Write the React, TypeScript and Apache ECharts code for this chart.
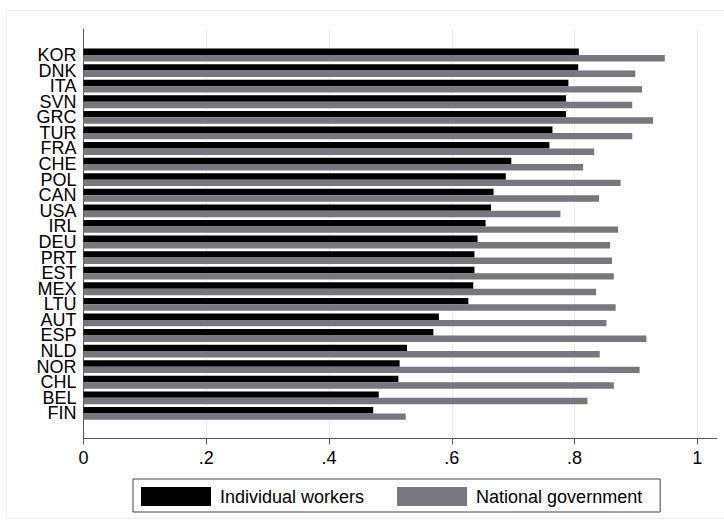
import React, { useEffect, useRef } from "react";
import * as echarts from "echarts";

const countries = [
  "KOR", "DNK", "ITA", "SVN", "GRC", "TUR", "FRA", "CHE", "POL", "CAN", "USA", "IRL",
  "DEU", "PRT", "EST", "MEX", "LTU", "AUT", "ESP", "NLD", "NOR", "CHL", "BEL", "FIN",
];
const individualWorkers = [
  0.807, 0.806, 0.790, 0.786, 0.786, 0.764, 0.759, 0.697, 0.688, 0.668, 0.664, 0.655,
  0.642, 0.637, 0.637, 0.635, 0.627, 0.579, 0.570, 0.527, 0.515, 0.513, 0.481, 0.472,
];
const nationalGovernment = [
  0.947, 0.899, 0.910, 0.894, 0.928, 0.894, 0.832, 0.814, 0.875, 0.840, 0.777, 0.871,
  0.858, 0.861, 0.864, 0.835, 0.867, 0.852, 0.917, 0.841, 0.906, 0.864, 0.821, 0.525,
];
const xTicks = [0, 0.2, 0.4, 0.6, 0.8, 1];

const FONT = "'Liberation Sans', Arial, Helvetica, sans-serif";

export default function App() {
  const ref = useRef<HTMLDivElement>(null);
  useEffect(() => {
    if (!ref.current) return;
    const chart = echarts.init(ref.current, null, { renderer: "svg" });
    const fmt = (v: number) => {
      const s = (Math.round(v * 10) / 10).toString();
      return s.startsWith("0.") ? s.slice(1) : s;
    };
    chart.setOption({
      animation: false,
      backgroundColor: "#ffffff",
      textStyle: { fontFamily: FONT },
      graphic: [
        {
          type: "rect",
          shape: { x: 6.5, y: 10.5, width: 730, height: 508 },
          style: { fill: "none", stroke: "#efefef", lineWidth: 1 },
          silent: true,
          z: -10,
        },
      ],
      grid: [
        { left: 83.5, right: 26.7, top: 29, bottom: 89.5 },
        { left: 83.5, right: 7.3, top: 29, bottom: 89.5 },
        { left: 83.5, right: 26.7, top: 47.2, height: 374 },
      ],
      xAxis: [
        {
          gridIndex: 0,
          type: "value",
          min: xTicks[0],
          max: xTicks[xTicks.length - 1],
          interval: 0.2,
          axisLine: { show: false },
          axisTick: { show: true, length: 6, lineStyle: { color: "#555", width: 1 } },
          axisLabel: {
            formatter: fmt,
            fontSize: 18,
            color: "#000",
            margin: 10,
            fontFamily: FONT,
          },
          splitLine: { show: true, lineStyle: { color: "#e4ecee", width: 1 } },
        },
        {
          gridIndex: 1,
          type: "value",
          min: 0,
          max: 1,
          axisLine: { show: true, onZero: false, lineStyle: { color: "#555", width: 1 } },
          axisTick: { show: false },
          axisLabel: { show: false },
          splitLine: { show: false },
        },
        {
          gridIndex: 2,
          type: "value",
          min: 0,
          max: 1,
          show: false,
        },
      ],
      yAxis: [
        {
          gridIndex: 0,
          type: "value",
          min: 0,
          max: 1,
          axisLine: { show: true, onZero: false, lineStyle: { color: "#555", width: 1 } },
          axisTick: { show: false },
          axisLabel: { show: false },
          splitLine: { show: false },
        },
        {
          gridIndex: 1,
          type: "value",
          min: 0,
          max: 1,
          show: false,
        },
        {
          gridIndex: 2,
          type: "category",
          data: countries,
          inverse: true,
          axisLine: { show: false },
          axisTick: { show: false },
          splitLine: { show: false },
          axisLabel: {
            interval: 0,
            hideOverlap: false,
            fontSize: 18,
            lineHeight: 15,
            color: "#000",
            margin: 7,
            fontFamily: FONT,
          },
        },
      ],
      legend: {
        left: 133,
        top: 479,
        orient: "horizontal",
        itemWidth: 70,
        itemHeight: 19,
        itemGap: 33,
        padding: [8, 18, 6, 8],
        borderColor: "#444",
        borderWidth: 1,
        icon: "rect",
        textStyle: {
          fontSize: 18,
          color: "#000",
          fontFamily: FONT,
          padding: [0, 0, 0, 4],
          lineHeight: 19,
        },
        data: ["Individual workers", "National government"],
      },
      series: [
        {
          name: "Individual workers",
          type: "bar",
          xAxisIndex: 2,
          yAxisIndex: 2,
          data: individualWorkers,
          barWidth: 6.4,
          barGap: "0%",
          itemStyle: { color: "#000000" },
        },
        {
          name: "National government",
          type: "bar",
          xAxisIndex: 2,
          yAxisIndex: 2,
          data: nationalGovernment,
          barWidth: 6.4,
          barGap: "0%",
          itemStyle: { color: "#77777d" },
        },
      ],
    });
    return () => chart.dispose();
  }, []);
  return <div ref={ref} style={{ width: 724, height: 528, position: "absolute", left: 0, top: 0 }} />;
}
